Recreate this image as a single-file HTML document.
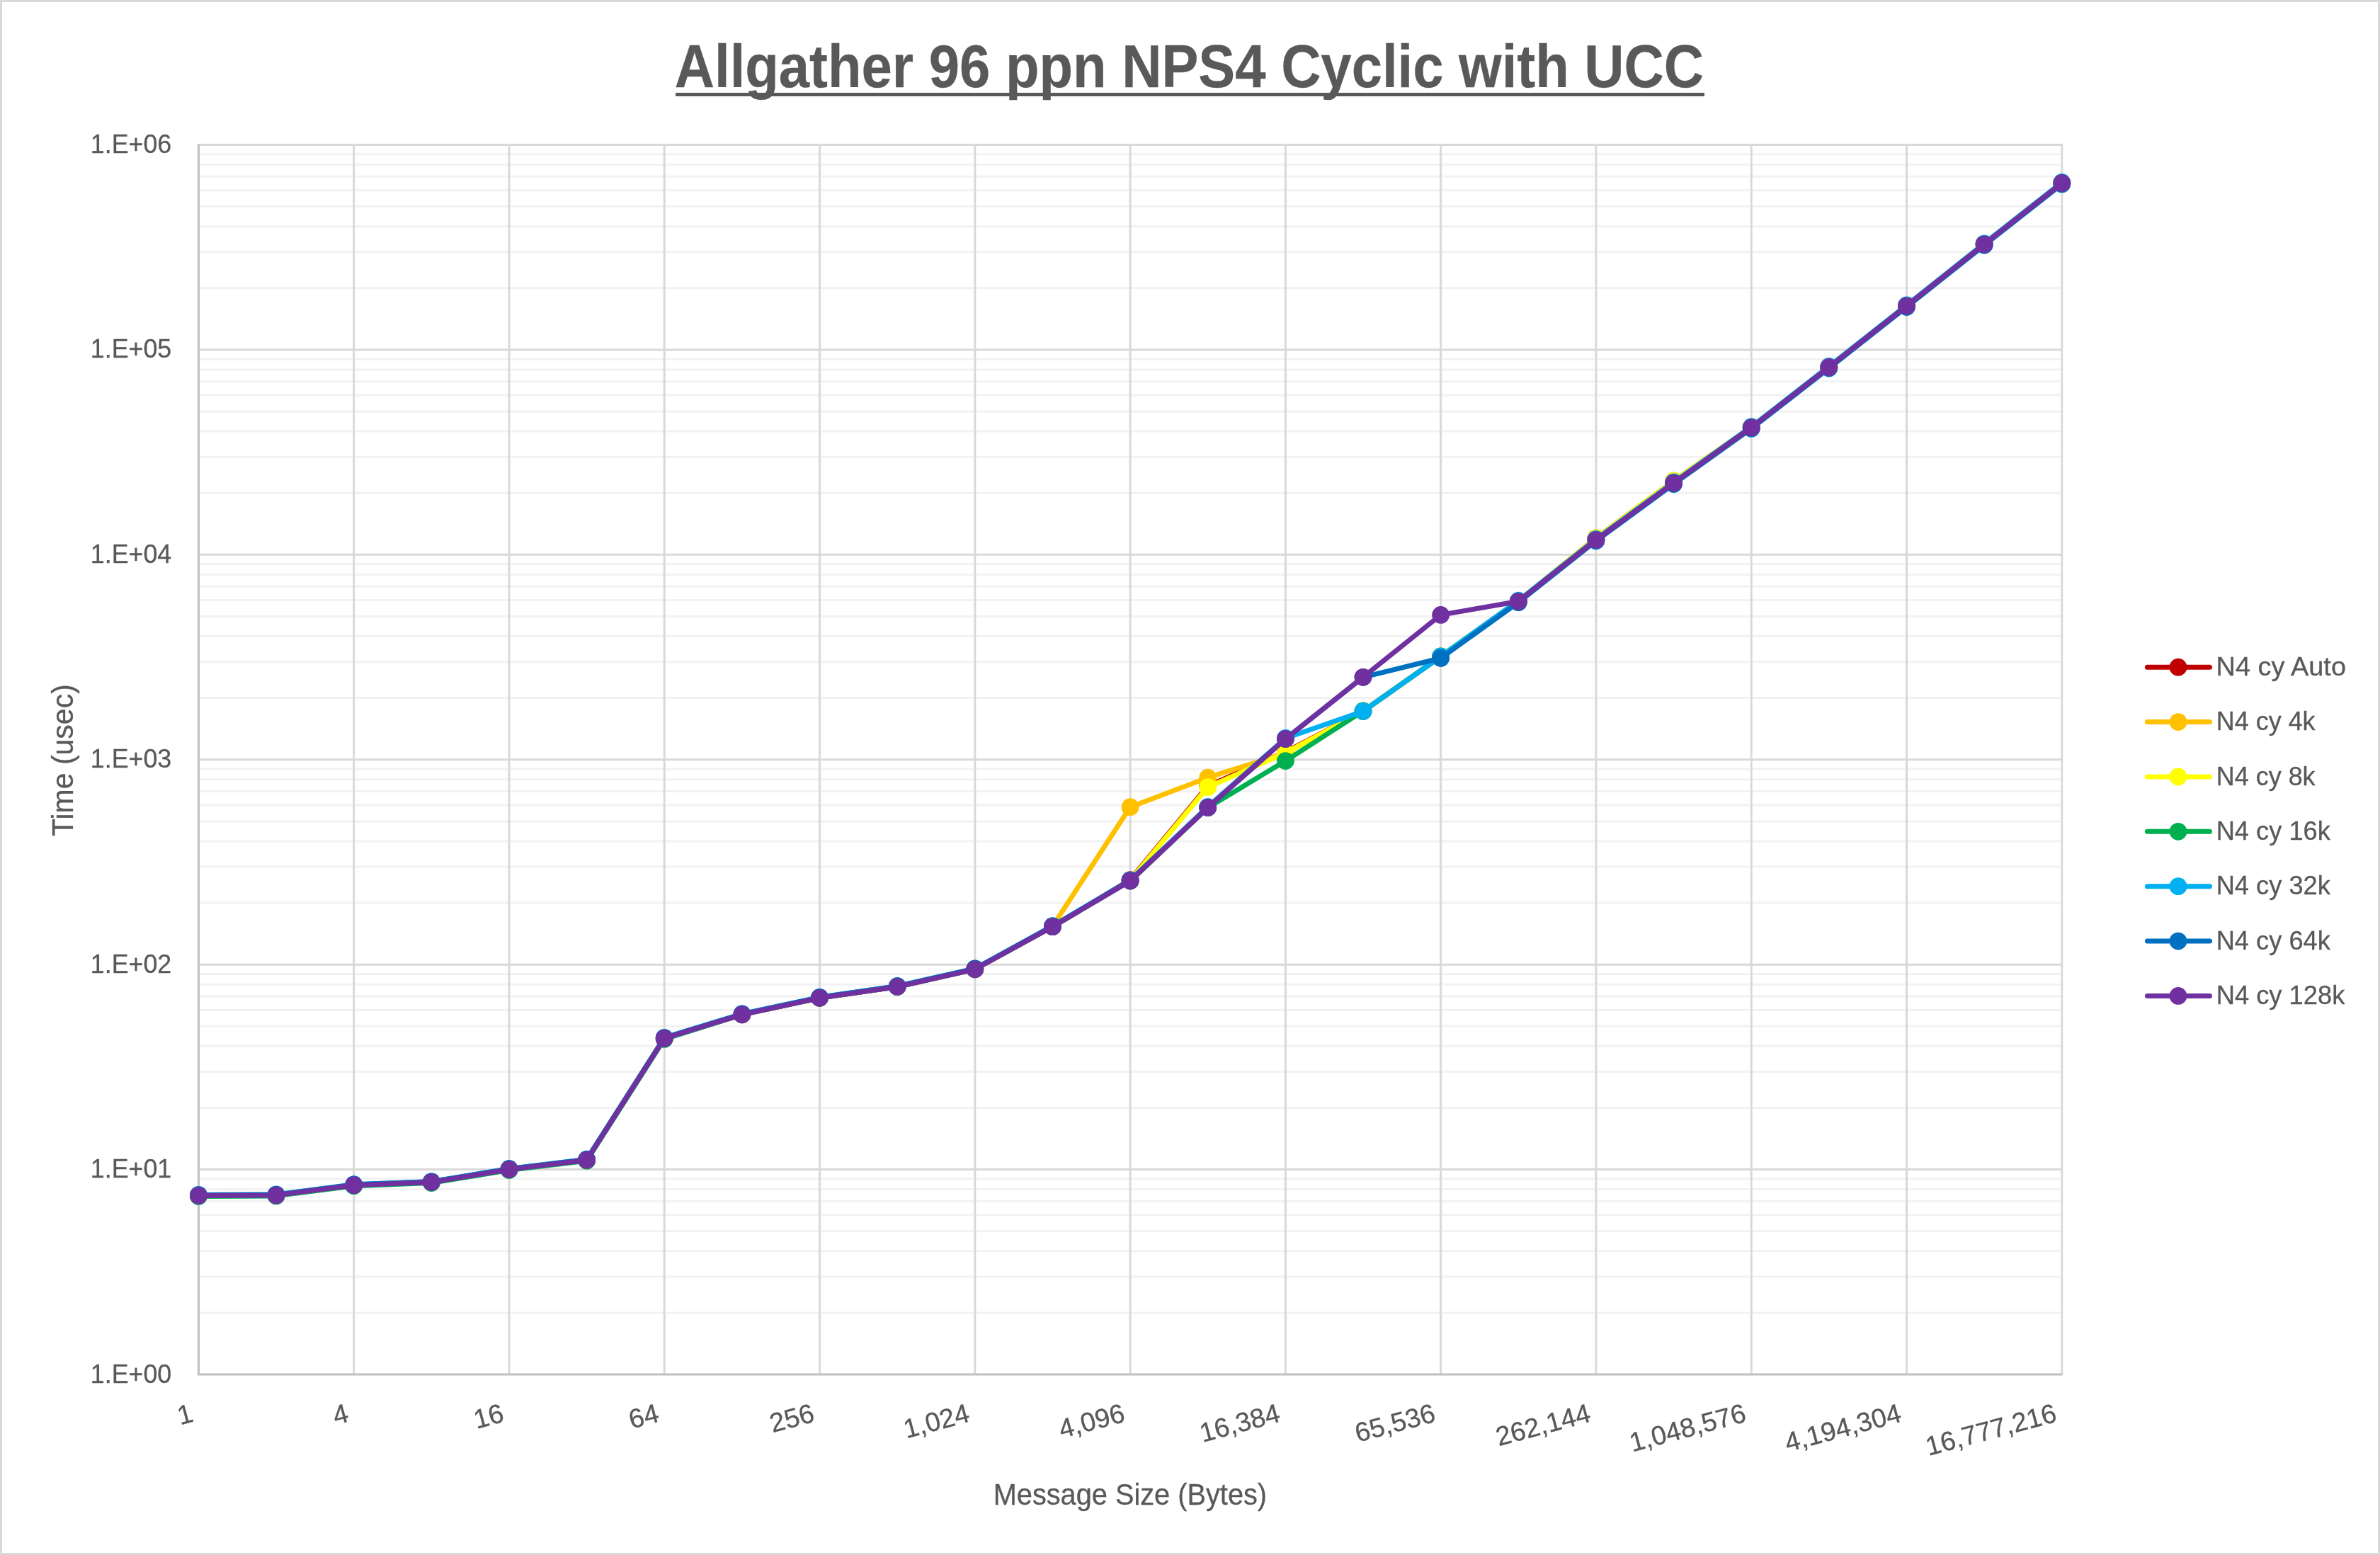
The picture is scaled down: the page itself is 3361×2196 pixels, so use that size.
<!DOCTYPE html><html><head><meta charset="utf-8"><style>html,body{margin:0;padding:0;background:#fff;}svg{display:block;will-change:transform;}text{font-family:"Liberation Sans", sans-serif;fill:#595959;stroke:#595959;stroke-width:0.3px;}</style></head><body>
<svg width="3361" height="2196" viewBox="0 0 3361 2196">
<rect x="0" y="0" width="3361" height="2196" fill="#fff"/>
<rect x="1.5" y="1.5" width="3358" height="2193" fill="none" stroke="#D9D9D9" stroke-width="3"/>
<path d="M280.4 1853.9H2912.5 M280.4 1802.9H2912.5 M280.4 1766.8H2912.5 M280.4 1738.7H2912.5 M280.4 1715.8H2912.5 M280.4 1696.4H2912.5 M280.4 1679.6H2912.5 M280.4 1664.8H2912.5 M280.4 1564.5H2912.5 M280.4 1513.5H2912.5 M280.4 1477.3H2912.5 M280.4 1449.3H2912.5 M280.4 1426.4H2912.5 M280.4 1407.0H2912.5 M280.4 1390.2H2912.5 M280.4 1375.4H2912.5 M280.4 1275.0H2912.5 M280.4 1224.1H2912.5 M280.4 1187.9H2912.5 M280.4 1159.9H2912.5 M280.4 1137.0H2912.5 M280.4 1117.6H2912.5 M280.4 1100.8H2912.5 M280.4 1086.0H2912.5 M280.4 985.6H2912.5 M280.4 934.7H2912.5 M280.4 898.5H2912.5 M280.4 870.5H2912.5 M280.4 847.5H2912.5 M280.4 828.2H2912.5 M280.4 811.4H2912.5 M280.4 796.6H2912.5 M280.4 696.2H2912.5 M280.4 645.2H2912.5 M280.4 609.1H2912.5 M280.4 581.0H2912.5 M280.4 558.1H2912.5 M280.4 538.7H2912.5 M280.4 522.0H2912.5 M280.4 507.2H2912.5 M280.4 406.8H2912.5 M280.4 355.8H2912.5 M280.4 319.7H2912.5 M280.4 291.6H2912.5 M280.4 268.7H2912.5 M280.4 249.3H2912.5 M280.4 232.5H2912.5 M280.4 217.7H2912.5" stroke="#F2F2F2" stroke-width="3" fill="none"/>
<path d="M280.4 1651.6H2912.5 M280.4 1362.2H2912.5 M280.4 1072.8H2912.5 M280.4 783.3H2912.5 M280.4 493.9H2912.5 M280.4 204.5H2912.5" stroke="#D9D9D9" stroke-width="3" fill="none"/>
<path d="M499.7 203V1941.0 M719.0 203V1941.0 M938.2 203V1941.0 M1157.5 203V1941.0 M1376.8 203V1941.0 M1596.1 203V1941.0 M1815.4 203V1941.0 M2034.6 203V1941.0 M2253.9 203V1941.0 M2473.2 203V1941.0 M2692.5 203V1941.0 M2911.8 203V1941.0" stroke="#D9D9D9" stroke-width="3" fill="none"/>
<path d="M280.4 203V1942.5M279 1941.0H2912.5" stroke="#BFBFBF" stroke-width="3" fill="none"/>
<polyline points="280.4,1688.4 390.0,1687.9 499.7,1673.7 609.3,1669.6 719.0,1651.5 828.6,1638.2 938.2,1466.4 1047.9,1432.8 1157.5,1409.3 1267.2,1393.5 1376.8,1368.8 1486.4,1308.7 1596.1,1242.6 1705.7,1110.0 1815.4,1062.0 1925.0,1004.6 2034.6,927.2 2144.3,849.2 2253.9,759.8 2363.6,679.2 2473.2,603.7 2582.8,518.5 2692.5,432.0 2802.1,344.8 2911.8,258.4" fill="none" stroke="#C00000" stroke-width="7" stroke-linejoin="round" stroke-linecap="round"/>
<g fill="#C00000"><circle cx="280.4" cy="1688.4" r="12.4"/><circle cx="390.0" cy="1687.9" r="12.4"/><circle cx="499.7" cy="1673.7" r="12.4"/><circle cx="609.3" cy="1669.6" r="12.4"/><circle cx="719.0" cy="1651.5" r="12.4"/><circle cx="828.6" cy="1638.2" r="12.4"/><circle cx="938.2" cy="1466.4" r="12.4"/><circle cx="1047.9" cy="1432.8" r="12.4"/><circle cx="1157.5" cy="1409.3" r="12.4"/><circle cx="1267.2" cy="1393.5" r="12.4"/><circle cx="1376.8" cy="1368.8" r="12.4"/><circle cx="1486.4" cy="1308.7" r="12.4"/><circle cx="1596.1" cy="1242.6" r="12.4"/><circle cx="1705.7" cy="1110.0" r="12.4"/><circle cx="1815.4" cy="1062.0" r="12.4"/><circle cx="1925.0" cy="1004.6" r="12.4"/><circle cx="2034.6" cy="927.2" r="12.4"/><circle cx="2144.3" cy="849.2" r="12.4"/><circle cx="2253.9" cy="759.8" r="12.4"/><circle cx="2363.6" cy="679.2" r="12.4"/><circle cx="2473.2" cy="603.7" r="12.4"/><circle cx="2582.8" cy="518.5" r="12.4"/><circle cx="2692.5" cy="432.0" r="12.4"/><circle cx="2802.1" cy="344.8" r="12.4"/><circle cx="2911.8" cy="258.4" r="12.4"/></g>
<polyline points="280.4,1687.9 390.0,1687.4 499.7,1673.2 609.3,1669.1 719.0,1651.0 828.6,1637.7 938.2,1465.9 1047.9,1432.3 1157.5,1408.8 1267.2,1393.0 1376.8,1368.3 1486.4,1308.2 1596.1,1139.7 1705.7,1098.2 1815.4,1063.3 1925.0,1004.6 2034.6,927.2 2144.3,848.7 2253.9,759.8 2363.6,679.2 2473.2,603.2 2582.8,518.0 2692.5,431.5 2802.1,344.3 2911.8,257.9" fill="none" stroke="#FFC000" stroke-width="7" stroke-linejoin="round" stroke-linecap="round"/>
<g fill="#FFC000"><circle cx="280.4" cy="1687.9" r="12.4"/><circle cx="390.0" cy="1687.4" r="12.4"/><circle cx="499.7" cy="1673.2" r="12.4"/><circle cx="609.3" cy="1669.1" r="12.4"/><circle cx="719.0" cy="1651.0" r="12.4"/><circle cx="828.6" cy="1637.7" r="12.4"/><circle cx="938.2" cy="1465.9" r="12.4"/><circle cx="1047.9" cy="1432.3" r="12.4"/><circle cx="1157.5" cy="1408.8" r="12.4"/><circle cx="1267.2" cy="1393.0" r="12.4"/><circle cx="1376.8" cy="1368.3" r="12.4"/><circle cx="1486.4" cy="1308.2" r="12.4"/><circle cx="1596.1" cy="1139.7" r="12.4"/><circle cx="1705.7" cy="1098.2" r="12.4"/><circle cx="1815.4" cy="1063.3" r="12.4"/><circle cx="1925.0" cy="1004.6" r="12.4"/><circle cx="2034.6" cy="927.2" r="12.4"/><circle cx="2144.3" cy="848.7" r="12.4"/><circle cx="2253.9" cy="759.8" r="12.4"/><circle cx="2363.6" cy="679.2" r="12.4"/><circle cx="2473.2" cy="603.2" r="12.4"/><circle cx="2582.8" cy="518.0" r="12.4"/><circle cx="2692.5" cy="431.5" r="12.4"/><circle cx="2802.1" cy="344.3" r="12.4"/><circle cx="2911.8" cy="257.9" r="12.4"/></g>
<polyline points="280.4,1687.9 390.0,1687.4 499.7,1673.2 609.3,1669.1 719.0,1651.0 828.6,1637.7 938.2,1465.9 1047.9,1432.3 1157.5,1408.8 1267.2,1393.0 1376.8,1368.3 1486.4,1308.2 1596.1,1243.6 1705.7,1111.6 1815.4,1063.3 1925.0,1004.6 2034.6,927.2 2144.3,848.7 2253.9,759.8 2363.6,679.2 2473.2,603.2 2582.8,518.0 2692.5,431.5 2802.1,344.3 2911.8,257.9" fill="none" stroke="#FFFF00" stroke-width="7" stroke-linejoin="round" stroke-linecap="round"/>
<g fill="#FFFF00"><circle cx="280.4" cy="1687.9" r="12.4"/><circle cx="390.0" cy="1687.4" r="12.4"/><circle cx="499.7" cy="1673.2" r="12.4"/><circle cx="609.3" cy="1669.1" r="12.4"/><circle cx="719.0" cy="1651.0" r="12.4"/><circle cx="828.6" cy="1637.7" r="12.4"/><circle cx="938.2" cy="1465.9" r="12.4"/><circle cx="1047.9" cy="1432.3" r="12.4"/><circle cx="1157.5" cy="1408.8" r="12.4"/><circle cx="1267.2" cy="1393.0" r="12.4"/><circle cx="1376.8" cy="1368.3" r="12.4"/><circle cx="1486.4" cy="1308.2" r="12.4"/><circle cx="1596.1" cy="1243.6" r="12.4"/><circle cx="1705.7" cy="1111.6" r="12.4"/><circle cx="1815.4" cy="1063.3" r="12.4"/><circle cx="1925.0" cy="1004.6" r="12.4"/><circle cx="2034.6" cy="927.2" r="12.4"/><circle cx="2144.3" cy="848.7" r="12.4"/><circle cx="2253.9" cy="759.8" r="12.4"/><circle cx="2363.6" cy="679.2" r="12.4"/><circle cx="2473.2" cy="603.2" r="12.4"/><circle cx="2582.8" cy="518.0" r="12.4"/><circle cx="2692.5" cy="431.5" r="12.4"/><circle cx="2802.1" cy="344.3" r="12.4"/><circle cx="2911.8" cy="257.9" r="12.4"/></g>
<polyline points="280.4,1689.4 390.0,1688.9 499.7,1674.7 609.3,1670.6 719.0,1652.5 828.6,1639.2 938.2,1467.4 1047.9,1432.8 1157.5,1409.3 1267.2,1393.5 1376.8,1368.8 1486.4,1308.7 1596.1,1244.1 1705.7,1140.4 1815.4,1074.6 1925.0,1004.0 2034.6,926.8 2144.3,849.2 2253.9,762.3 2363.6,682.0 2473.2,603.7 2582.8,518.5 2692.5,432.0 2802.1,344.8 2911.8,258.4" fill="none" stroke="#00B050" stroke-width="7" stroke-linejoin="round" stroke-linecap="round"/>
<g fill="#00B050"><circle cx="280.4" cy="1689.4" r="12.4"/><circle cx="390.0" cy="1688.9" r="12.4"/><circle cx="499.7" cy="1674.7" r="12.4"/><circle cx="609.3" cy="1670.6" r="12.4"/><circle cx="719.0" cy="1652.5" r="12.4"/><circle cx="828.6" cy="1639.2" r="12.4"/><circle cx="938.2" cy="1467.4" r="12.4"/><circle cx="1047.9" cy="1432.8" r="12.4"/><circle cx="1157.5" cy="1409.3" r="12.4"/><circle cx="1267.2" cy="1393.5" r="12.4"/><circle cx="1376.8" cy="1368.8" r="12.4"/><circle cx="1486.4" cy="1308.7" r="12.4"/><circle cx="1596.1" cy="1244.1" r="12.4"/><circle cx="1705.7" cy="1140.4" r="12.4"/><circle cx="1815.4" cy="1074.6" r="12.4"/><circle cx="1925.0" cy="1004.0" r="12.4"/><circle cx="2034.6" cy="926.8" r="12.4"/><circle cx="2144.3" cy="849.2" r="12.4"/><circle cx="2253.9" cy="762.3" r="12.4"/><circle cx="2363.6" cy="682.0" r="12.4"/><circle cx="2473.2" cy="603.7" r="12.4"/><circle cx="2582.8" cy="518.5" r="12.4"/><circle cx="2692.5" cy="432.0" r="12.4"/><circle cx="2802.1" cy="344.8" r="12.4"/><circle cx="2911.8" cy="258.4" r="12.4"/></g>
<polyline points="280.4,1687.4 390.0,1686.9 499.7,1672.7 609.3,1668.6 719.0,1650.5 828.6,1637.2 938.2,1465.4 1047.9,1431.8 1157.5,1408.3 1267.2,1392.5 1376.8,1367.8 1486.4,1307.7 1596.1,1243.1 1705.7,1139.4 1815.4,1042.5 1925.0,1004.6 2034.6,927.2 2144.3,848.2 2253.9,761.3 2363.6,681.0 2473.2,602.7 2582.8,517.5 2692.5,431.0 2802.1,343.8 2911.8,257.4" fill="none" stroke="#00B0F0" stroke-width="7" stroke-linejoin="round" stroke-linecap="round"/>
<g fill="#00B0F0"><circle cx="280.4" cy="1687.4" r="12.4"/><circle cx="390.0" cy="1686.9" r="12.4"/><circle cx="499.7" cy="1672.7" r="12.4"/><circle cx="609.3" cy="1668.6" r="12.4"/><circle cx="719.0" cy="1650.5" r="12.4"/><circle cx="828.6" cy="1637.2" r="12.4"/><circle cx="938.2" cy="1465.4" r="12.4"/><circle cx="1047.9" cy="1431.8" r="12.4"/><circle cx="1157.5" cy="1408.3" r="12.4"/><circle cx="1267.2" cy="1392.5" r="12.4"/><circle cx="1376.8" cy="1367.8" r="12.4"/><circle cx="1486.4" cy="1307.7" r="12.4"/><circle cx="1596.1" cy="1243.1" r="12.4"/><circle cx="1705.7" cy="1139.4" r="12.4"/><circle cx="1815.4" cy="1042.5" r="12.4"/><circle cx="1925.0" cy="1004.6" r="12.4"/><circle cx="2034.6" cy="927.2" r="12.4"/><circle cx="2144.3" cy="848.2" r="12.4"/><circle cx="2253.9" cy="761.3" r="12.4"/><circle cx="2363.6" cy="681.0" r="12.4"/><circle cx="2473.2" cy="602.7" r="12.4"/><circle cx="2582.8" cy="517.5" r="12.4"/><circle cx="2692.5" cy="431.0" r="12.4"/><circle cx="2802.1" cy="343.8" r="12.4"/><circle cx="2911.8" cy="257.4" r="12.4"/></g>
<polyline points="280.4,1687.6 390.0,1687.1 499.7,1672.9 609.3,1668.8 719.0,1650.7 828.6,1637.4 938.2,1465.6 1047.9,1432.0 1157.5,1408.5 1267.2,1392.7 1376.8,1368.0 1486.4,1307.9 1596.1,1243.3 1705.7,1140.4 1815.4,1043.5 1925.0,956.3 2034.6,929.5 2144.3,850.7 2253.9,763.8 2363.6,683.5 2473.2,605.2 2582.8,520.0 2692.5,433.5 2802.1,346.3 2911.8,259.9" fill="none" stroke="#0070C0" stroke-width="7" stroke-linejoin="round" stroke-linecap="round"/>
<g fill="#0070C0"><circle cx="280.4" cy="1687.6" r="12.4"/><circle cx="390.0" cy="1687.1" r="12.4"/><circle cx="499.7" cy="1672.9" r="12.4"/><circle cx="609.3" cy="1668.8" r="12.4"/><circle cx="719.0" cy="1650.7" r="12.4"/><circle cx="828.6" cy="1637.4" r="12.4"/><circle cx="938.2" cy="1465.6" r="12.4"/><circle cx="1047.9" cy="1432.0" r="12.4"/><circle cx="1157.5" cy="1408.5" r="12.4"/><circle cx="1267.2" cy="1392.7" r="12.4"/><circle cx="1376.8" cy="1368.0" r="12.4"/><circle cx="1486.4" cy="1307.9" r="12.4"/><circle cx="1596.1" cy="1243.3" r="12.4"/><circle cx="1705.7" cy="1140.4" r="12.4"/><circle cx="1815.4" cy="1043.5" r="12.4"/><circle cx="1925.0" cy="956.3" r="12.4"/><circle cx="2034.6" cy="929.5" r="12.4"/><circle cx="2144.3" cy="850.7" r="12.4"/><circle cx="2253.9" cy="763.8" r="12.4"/><circle cx="2363.6" cy="683.5" r="12.4"/><circle cx="2473.2" cy="605.2" r="12.4"/><circle cx="2582.8" cy="520.0" r="12.4"/><circle cx="2692.5" cy="433.5" r="12.4"/><circle cx="2802.1" cy="346.3" r="12.4"/><circle cx="2911.8" cy="259.9" r="12.4"/></g>
<polyline points="280.4,1688.4 390.0,1687.9 499.7,1673.7 609.3,1669.6 719.0,1651.5 828.6,1638.2 938.2,1466.4 1047.9,1432.8 1157.5,1409.3 1267.2,1393.5 1376.8,1368.8 1486.4,1308.7 1596.1,1244.1 1705.7,1140.4 1815.4,1043.5 1925.0,956.3 2034.6,868.4 2144.3,849.2 2253.9,762.3 2363.6,682.0 2473.2,603.7 2582.8,518.5 2692.5,432.0 2802.1,344.8 2911.8,258.4" fill="none" stroke="#7030A0" stroke-width="7" stroke-linejoin="round" stroke-linecap="round"/>
<g fill="#7030A0"><circle cx="280.4" cy="1688.4" r="12.4"/><circle cx="390.0" cy="1687.9" r="12.4"/><circle cx="499.7" cy="1673.7" r="12.4"/><circle cx="609.3" cy="1669.6" r="12.4"/><circle cx="719.0" cy="1651.5" r="12.4"/><circle cx="828.6" cy="1638.2" r="12.4"/><circle cx="938.2" cy="1466.4" r="12.4"/><circle cx="1047.9" cy="1432.8" r="12.4"/><circle cx="1157.5" cy="1409.3" r="12.4"/><circle cx="1267.2" cy="1393.5" r="12.4"/><circle cx="1376.8" cy="1368.8" r="12.4"/><circle cx="1486.4" cy="1308.7" r="12.4"/><circle cx="1596.1" cy="1244.1" r="12.4"/><circle cx="1705.7" cy="1140.4" r="12.4"/><circle cx="1815.4" cy="1043.5" r="12.4"/><circle cx="1925.0" cy="956.3" r="12.4"/><circle cx="2034.6" cy="868.4" r="12.4"/><circle cx="2144.3" cy="849.2" r="12.4"/><circle cx="2253.9" cy="762.3" r="12.4"/><circle cx="2363.6" cy="682.0" r="12.4"/><circle cx="2473.2" cy="603.7" r="12.4"/><circle cx="2582.8" cy="518.5" r="12.4"/><circle cx="2692.5" cy="432.0" r="12.4"/><circle cx="2802.1" cy="344.8" r="12.4"/><circle cx="2911.8" cy="258.4" r="12.4"/></g>
<text x="242.3" y="1952.5" font-size="37.8" text-anchor="end" textLength="114.5" lengthAdjust="spacingAndGlyphs">1.E+00</text>
<text x="242.3" y="1663.1" font-size="37.8" text-anchor="end" textLength="114.5" lengthAdjust="spacingAndGlyphs">1.E+01</text>
<text x="242.3" y="1373.7" font-size="37.8" text-anchor="end" textLength="114.5" lengthAdjust="spacingAndGlyphs">1.E+02</text>
<text x="242.3" y="1084.2" font-size="37.8" text-anchor="end" textLength="114.5" lengthAdjust="spacingAndGlyphs">1.E+03</text>
<text x="242.3" y="794.8" font-size="37.8" text-anchor="end" textLength="114.5" lengthAdjust="spacingAndGlyphs">1.E+04</text>
<text x="242.3" y="505.4" font-size="37.8" text-anchor="end" textLength="114.5" lengthAdjust="spacingAndGlyphs">1.E+05</text>
<text x="242.3" y="216.0" font-size="37.8" text-anchor="end" textLength="114.5" lengthAdjust="spacingAndGlyphs">1.E+06</text>
<text x="0" y="0" font-size="37.8" text-anchor="end" transform="translate(274.9,2007) rotate(-15)">1</text>
<text x="0" y="0" font-size="37.8" text-anchor="end" transform="translate(494.2,2007) rotate(-15)">4</text>
<text x="0" y="0" font-size="37.8" text-anchor="end" transform="translate(713.5,2007) rotate(-15)">16</text>
<text x="0" y="0" font-size="37.8" text-anchor="end" transform="translate(932.7,2007) rotate(-15)">64</text>
<text x="0" y="0" font-size="37.8" text-anchor="end" transform="translate(1152.0,2007) rotate(-15)">256</text>
<text x="0" y="0" font-size="37.8" text-anchor="end" transform="translate(1371.3,2007) rotate(-15)">1,024</text>
<text x="0" y="0" font-size="37.8" text-anchor="end" transform="translate(1590.6,2007) rotate(-15)">4,096</text>
<text x="0" y="0" font-size="37.8" text-anchor="end" transform="translate(1809.9,2007) rotate(-15)">16,384</text>
<text x="0" y="0" font-size="37.8" text-anchor="end" transform="translate(2029.1,2007) rotate(-15)">65,536</text>
<text x="0" y="0" font-size="37.8" text-anchor="end" transform="translate(2248.4,2007) rotate(-15)">262,144</text>
<text x="0" y="0" font-size="37.8" text-anchor="end" transform="translate(2467.7,2007) rotate(-15)">1,048,576</text>
<text x="0" y="0" font-size="37.8" text-anchor="end" transform="translate(2687.0,2007) rotate(-15)">4,194,304</text>
<text x="0" y="0" font-size="37.8" text-anchor="end" transform="translate(2906.3,2007) rotate(-15)">16,777,216</text>
<text x="1402.7" y="2125" font-size="42" textLength="386.4" lengthAdjust="spacingAndGlyphs">Message Size (Bytes)</text>
<text x="0" y="0" font-size="42" textLength="214.8" lengthAdjust="spacingAndGlyphs" transform="translate(102.5,1181) rotate(-90)">Time (usec)</text>
<text x="952.8" y="122.6" font-size="85" font-weight="bold" textLength="1453.2" lengthAdjust="spacingAndGlyphs">Allgather 96 ppn NPS4 Cyclic with UCC</text>
<rect x="954" y="131" width="1453" height="5" fill="#595959"/>
<line x1="3032.4" y1="942.2" x2="3120.5" y2="942.2" stroke="#C00000" stroke-width="7" stroke-linecap="round"/>
<circle cx="3076" cy="942.2" r="12.4" fill="#C00000"/>
<text x="3129.6" y="953.9" font-size="37.8" textLength="183.4" lengthAdjust="spacingAndGlyphs">N4 cy Auto</text>
<line x1="3032.4" y1="1019.6" x2="3120.5" y2="1019.6" stroke="#FFC000" stroke-width="7" stroke-linecap="round"/>
<circle cx="3076" cy="1019.6" r="12.4" fill="#FFC000"/>
<text x="3129.8" y="1031.3" font-size="37.8" textLength="139.8" lengthAdjust="spacingAndGlyphs">N4 cy 4k</text>
<line x1="3032.4" y1="1096.9" x2="3120.5" y2="1096.9" stroke="#FFFF00" stroke-width="7" stroke-linecap="round"/>
<circle cx="3076" cy="1096.9" r="12.4" fill="#FFFF00"/>
<text x="3129.8" y="1108.6" font-size="37.8" textLength="139.8" lengthAdjust="spacingAndGlyphs">N4 cy 8k</text>
<line x1="3032.4" y1="1174.3" x2="3120.5" y2="1174.3" stroke="#00B050" stroke-width="7" stroke-linecap="round"/>
<circle cx="3076" cy="1174.3" r="12.4" fill="#00B050"/>
<text x="3129.7" y="1186.0" font-size="37.8" textLength="161.2" lengthAdjust="spacingAndGlyphs">N4 cy 16k</text>
<line x1="3032.4" y1="1251.7" x2="3120.5" y2="1251.7" stroke="#00B0F0" stroke-width="7" stroke-linecap="round"/>
<circle cx="3076" cy="1251.7" r="12.4" fill="#00B0F0"/>
<text x="3129.7" y="1263.4" font-size="37.8" textLength="161.2" lengthAdjust="spacingAndGlyphs">N4 cy 32k</text>
<line x1="3032.4" y1="1329.1" x2="3120.5" y2="1329.1" stroke="#0070C0" stroke-width="7" stroke-linecap="round"/>
<circle cx="3076" cy="1329.1" r="12.4" fill="#0070C0"/>
<text x="3129.7" y="1340.8" font-size="37.8" textLength="161.2" lengthAdjust="spacingAndGlyphs">N4 cy 64k</text>
<line x1="3032.4" y1="1406.4" x2="3120.5" y2="1406.4" stroke="#7030A0" stroke-width="7" stroke-linecap="round"/>
<circle cx="3076" cy="1406.4" r="12.4" fill="#7030A0"/>
<text x="3129.7" y="1418.1" font-size="37.8" textLength="181.7" lengthAdjust="spacingAndGlyphs">N4 cy 128k</text>
</svg></body></html>
